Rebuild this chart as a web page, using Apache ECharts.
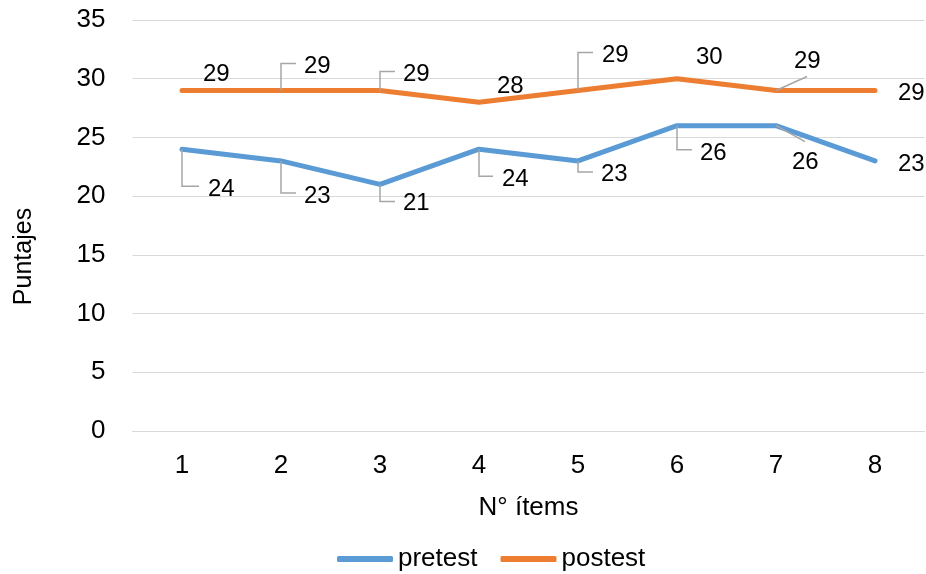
<!DOCTYPE html>
<html>
<head>
<meta charset="utf-8">
<script src="https://cdn.jsdelivr.net/npm/echarts@6/dist/echarts.min.js"></script>
<style>
  html, body { margin: 0; padding: 0; background: #fff; }
  #chart { width: 926px; height: 574px; }
</style>
</head>
<body>
<div id="chart"></div>
<script>
// Item numbers on the x axis
const items = ['1', '2', '3', '4', '5', '6', '7', '8'];
// Scores per item
const pretest = [24, 23, 21, 24, 23, 26, 26, 23];
const postest = [29, 29, 29, 28, 29, 30, 29, 29];

const FONT = '"Liberation Sans", Arial, sans-serif';
const BLUE = '#5B9BD5';
const ORANGE = '#ED7D31';

// Value label placement relative to each point (pixels): text anchor (left, middle)
// and an optional leader line drawn from the point toward the text.
const pretestLabelLayout = [
  { text: [26, 40], leader: [[0, 0], [0, 37], [17, 37]] },
  { text: [23, 35], leader: [[0, 0], [0, 32], [15, 32]] },
  { text: [23, 19], leader: [[0, 0], [0, 17], [15, 17]] },
  { text: [23, 30], leader: [[0, 0], [0, 27], [14, 27]] },
  { text: [23, 13], leader: [[0, 0], [0, 11], [15, 11]] },
  { text: [23, 28], leader: [[0, 0], [0, 24], [15, 24]] },
  { text: [16, 37], leader: [[0, 0], [29, 16]] },
  { text: [23, 3] }
];
const postestLabelLayout = [
  { text: [21, -16] },
  { text: [23, -24], leader: [[0, 0], [0, -27], [15, -27]] },
  { text: [23, -16], leader: [[0, 0], [0, -19], [15, -19]] },
  { text: [18, -16] },
  { text: [24, -35], leader: [[0, 0], [0, -38], [15, -38]] },
  { text: [19, -21] },
  { text: [18, -29], leader: [[0, 0], [31, -14]] },
  { text: [23, 3] }
];

function labelRenderer(layout) {
  return function (params, api) {
    const v = api.value(1);
    const p = api.coord([api.value(0), v]);
    const L = layout[params.dataIndex];
    const children = [];
    if (L.leader) {
      children.push({
        type: 'polyline',
        shape: { points: L.leader.map(q => [p[0] + q[0], p[1] + q[1]]) },
        style: { stroke: '#a6a6a6', lineWidth: 1.5, fill: null }
      });
    }
    children.push({
      type: 'text',
      style: {
        x: p[0] + L.text[0],
        y: p[1] + L.text[1],
        text: String(v),
        fill: '#000',
        fontSize: 24,
        fontFamily: FONT,
        align: 'left',
        verticalAlign: 'middle'
      }
    });
    return { type: 'group', children };
  };
}

const chart = echarts.init(document.getElementById('chart'), null, { renderer: 'canvas' });

chart.setOption({
  animation: false,
  textStyle: { fontFamily: FONT },
  grid: { left: 132.5, right: 1.5, top: 20, bottom: 143, containLabel: false, outerBoundsMode: 'none' },
  legend: {
    data: ['pretest', 'postest'],
    left: 332,
    top: 541,
    icon: 'roundRect',
    itemWidth: 56,
    itemHeight: 6,
    itemGap: 23,
    textStyle: { fontSize: 26, color: '#000', fontFamily: FONT }
  },
  xAxis: {
    type: 'category',
    data: items,
    boundaryGap: true,
    name: 'N° ítems',
    nameLocation: 'middle',
    nameGap: 64,
    nameTextStyle: { fontSize: 26, color: '#000', fontFamily: FONT },
    axisLine: { show: true, lineStyle: { color: '#d9d9d9', width: 1 } },
    axisTick: { show: false },
    axisLabel: { fontSize: 26, color: '#000', margin: 22, fontFamily: FONT },
    splitLine: { show: false }
  },
  yAxis: {
    type: 'value',
    min: 0,
    max: 35,
    interval: 5,
    name: 'Puntajes',
    nameLocation: 'middle',
    nameRotate: 90,
    nameGap: 96,
    nameTextStyle: { fontSize: 25, color: '#000', fontFamily: FONT, padding: [0, 62, 0, 0] },
    axisLine: { show: false },
    axisTick: { show: false },
    axisLabel: { fontSize: 26, color: '#000', margin: 27, fontFamily: FONT },
    splitLine: { lineStyle: { color: '#d9d9d9', width: 1 } }
  },
  series: [
    {
      name: 'pretest',
      type: 'line',
      data: pretest,
      symbol: 'none',
      color: BLUE,
      lineStyle: { width: 5, color: BLUE, cap: 'round', join: 'round' }
    },
    {
      name: 'postest',
      type: 'line',
      data: postest,
      symbol: 'none',
      color: ORANGE,
      lineStyle: { width: 5, color: ORANGE, cap: 'round', join: 'round' }
    },
    {
      name: 'pretest-labels',
      type: 'custom',
      coordinateSystem: 'cartesian2d',
      clip: false,
      silent: true,
      data: pretest.map((v, i) => [i, v]),
      renderItem: labelRenderer(pretestLabelLayout),
      z: 5
    },
    {
      name: 'postest-labels',
      type: 'custom',
      coordinateSystem: 'cartesian2d',
      clip: false,
      silent: true,
      data: postest.map((v, i) => [i, v]),
      renderItem: labelRenderer(postestLabelLayout),
      z: 5
    }
  ]
});
</script>
</body>
</html>
